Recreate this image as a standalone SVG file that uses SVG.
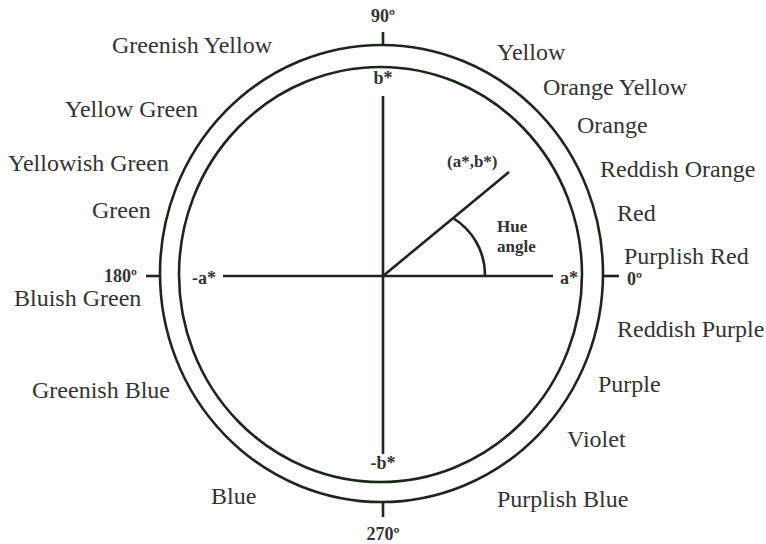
<svg xmlns="http://www.w3.org/2000/svg" width="766" height="544" viewBox="0 0 766 544">
<style>
.ln{fill:none;stroke:#1d261b;stroke-width:2.6;stroke-linecap:butt}
.c{font-family:"Liberation Serif","Times New Roman",serif;font-size:24px;fill:#333}
.b{font-family:"Liberation Serif","Times New Roman",serif;font-size:18px;font-weight:bold;fill:#333}
.s{font-family:"Liberation Serif","Times New Roman",serif;font-size:17px;font-weight:bold;fill:#333}
</style>
<rect width="766" height="544" fill="#fff"/>
<g id="wheel">
<ellipse class="ln" cx="381.5" cy="273.5" rx="221.5" ry="228.5"/>
<ellipse class="ln" cx="380.5" cy="274.5" rx="201.5" ry="207.5"/>
</g>
<g id="connectors">
<line class="ln" x1="383" y1="96" x2="383" y2="454"/>
<line class="ln" x1="223" y1="276" x2="553" y2="276"/>
<line class="ln" x1="383" y1="32" x2="383" y2="45"/>
<line class="ln" x1="383" y1="502" x2="383" y2="517"/>
<line class="ln" x1="146" y1="276" x2="160" y2="276"/>
<line class="ln" x1="603" y1="276" x2="619" y2="276"/>
<line class="ln" x1="383" y1="276" x2="509" y2="172"/>
<path class="ln" d="M453 218 C472 230 485 250 485 276"/>
</g>
<g id="axis-labels">
<text class="b" x="383" y="22" text-anchor="middle">90º</text>
<text class="b" x="383" y="84" text-anchor="middle">b*</text>
<text class="b" x="383" y="469" text-anchor="middle">-b*</text>
<text class="b" x="383" y="540" text-anchor="middle">270º</text>
<text class="b" x="137" y="282" text-anchor="end">180º</text>
<text class="b" x="192" y="284">-a*</text>
<text class="b" x="560" y="284">a*</text>
<text class="b" x="627" y="285">0º</text>
<text class="s" x="447" y="167">(a*,b*)</text>
<text class="s" x="497" y="232">Hue</text>
<text class="s" x="497" y="252">angle</text>
</g>
<g id="hue-names">
<text class="c" x="112" y="53">Greenish Yellow</text>
<text class="c" x="65" y="117">Yellow Green</text>
<text class="c" x="8" y="171">Yellowish Green</text>
<text class="c" x="92" y="218">Green</text>
<text class="c" x="14" y="306">Bluish Green</text>
<text class="c" x="32" y="398">Greenish Blue</text>
<text class="c" x="211" y="504">Blue</text>
<text class="c" x="497" y="60">Yellow</text>
<text class="c" x="543" y="95">Orange Yellow</text>
<text class="c" x="577" y="133">Orange</text>
<text class="c" x="600" y="177">Reddish Orange</text>
<text class="c" x="617" y="221">Red</text>
<text class="c" x="624" y="264">Purplish Red</text>
<text class="c" x="617" y="337">Reddish Purple</text>
<text class="c" x="598" y="392">Purple</text>
<text class="c" x="567" y="447">Violet</text>
<text class="c" x="497" y="507">Purplish Blue</text>
</g>
</svg>
